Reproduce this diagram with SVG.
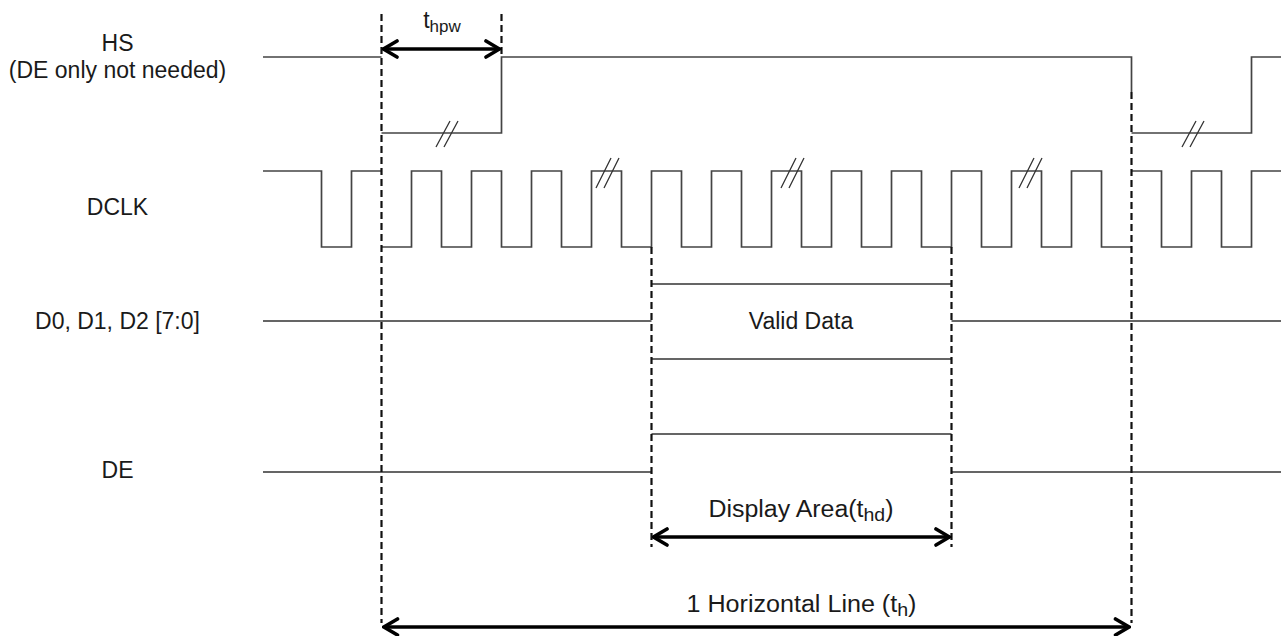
<svg xmlns="http://www.w3.org/2000/svg" width="1283" height="636" viewBox="0 0 1283 636">
<style>
  .lbl { font-family: "Liberation Sans", Arial, sans-serif; font-size: 23px; fill: #1a1a1a; }
  .mid { text-anchor: middle; }
  .wave { fill: none; stroke: #444; stroke-width: 1.7; }
  .data { fill: none; stroke: #333; stroke-width: 1.7; }
  .dash { fill: none; stroke: #111; stroke-width: 2.2; stroke-dasharray: 7 4; }
  .arrow { fill: none; stroke: #000; stroke-width: 3.4; marker-start: url(#chev); marker-end: url(#chev); }
  .brk { fill: none; stroke: #333; stroke-width: 1.3; }
</style>
<defs>
  <marker id="chev" viewBox="0 0 18 20" refX="16" refY="10" markerWidth="18" markerHeight="20" orient="auto-start-reverse" markerUnits="userSpaceOnUse">
    <path d="M2.5,2 L16,10 L2.5,18" fill="none" stroke="#000" stroke-width="3.6" stroke-linecap="round"/>
  </marker>
</defs>
<rect width="1283" height="636" fill="#fff"/>

<g id="hs">
  <text class="lbl mid" x="117.5" y="51">HS</text>
  <text class="lbl mid" x="117.5" y="78">(DE only not needed)</text>
  <path class="wave" d="M263,57 H381.5 M381.5,133 H501.5 V57 H1131.5 V92 M1131.5,133 H1251.5 V57 H1281"/>
  <path class="brk" d="M436,147 L450,121 M444,147 L458,121 M1182,147 L1196,121 M1190,147 L1204,121"/>
</g>

<g id="dclk">
  <text class="lbl mid" x="117.5" y="215">DCLK</text>
  <path class="wave" d="M263,171 H321.5 V247 H351.5 V171 H381.5 M381.5,247 H411.5 V171 H441.5 V247 H471.5 V171 H501.5 V247 H531.5 V171 H561.5 V247 H591.5 V171 H621.5 V247 H651.5 V171 H681.5 V247 H711.5 V171 H741.5 V247 H771.5 V171 H801.5 V247 H831.5 V171 H861.5 V247 H891.5 V171 H921.5 V247 H951.5 V171 H981.5 V247 H1011.5 V171 H1041.5 V247 H1071.5 V171 H1101.5 V247 H1131.5 M1131.5,171 H1161.5 V247 H1191.5 V171 H1221.5 V247 H1251.5 V171 H1281"/>
  <path class="brk" d="M596,188 L611,158 M604,188 L619,158 M781,188 L796,158 M789,188 L804,158 M1019,188 L1034,158 M1027,188 L1042,158"/>
</g>

<g id="data">
  <text class="lbl mid" x="117.5" y="329">D0, D1, D2 [7:0]</text>
  <path class="data" d="M263,321 H651.5 M951.5,321 H1281 M651.5,284 H951.5 M651.5,359 H951.5"/>
  <text class="lbl mid" x="801" y="329">Valid Data</text>
</g>

<g id="de">
  <text class="lbl mid" x="117.5" y="478">DE</text>
  <path class="data" d="M263,472 H651.5 M651.5,434 H951.5 M951.5,472 H1281"/>
</g>

<g id="connectors">
  <path class="dash" d="M381.5,14 V623 M501.5,14 V57 M651.5,247 V547 M951.5,247 V547 M1131.5,92 V623"/>
  <path class="arrow" d="M383.5,49 H499.5"/>
  <path class="arrow" d="M653.5,537 H949.5"/>
  <path class="arrow" d="M384,627 H1129"/>
</g>

<g id="labels">
  <text class="lbl mid" x="442" y="28">t<tspan font-size="17" dy="4">hpw</tspan></text>
  <text class="lbl mid" x="801" y="517" textLength="185" lengthAdjust="spacingAndGlyphs">Display Area(t<tspan font-size="18" dy="4">hd</tspan><tspan dy="-4">)</tspan></text>
  <text class="lbl mid" x="801.5" y="612" textLength="230" lengthAdjust="spacingAndGlyphs">1 Horizontal Line (t<tspan font-size="18" dy="4">h</tspan><tspan dy="-4">)</tspan></text>
</g>
</svg>
